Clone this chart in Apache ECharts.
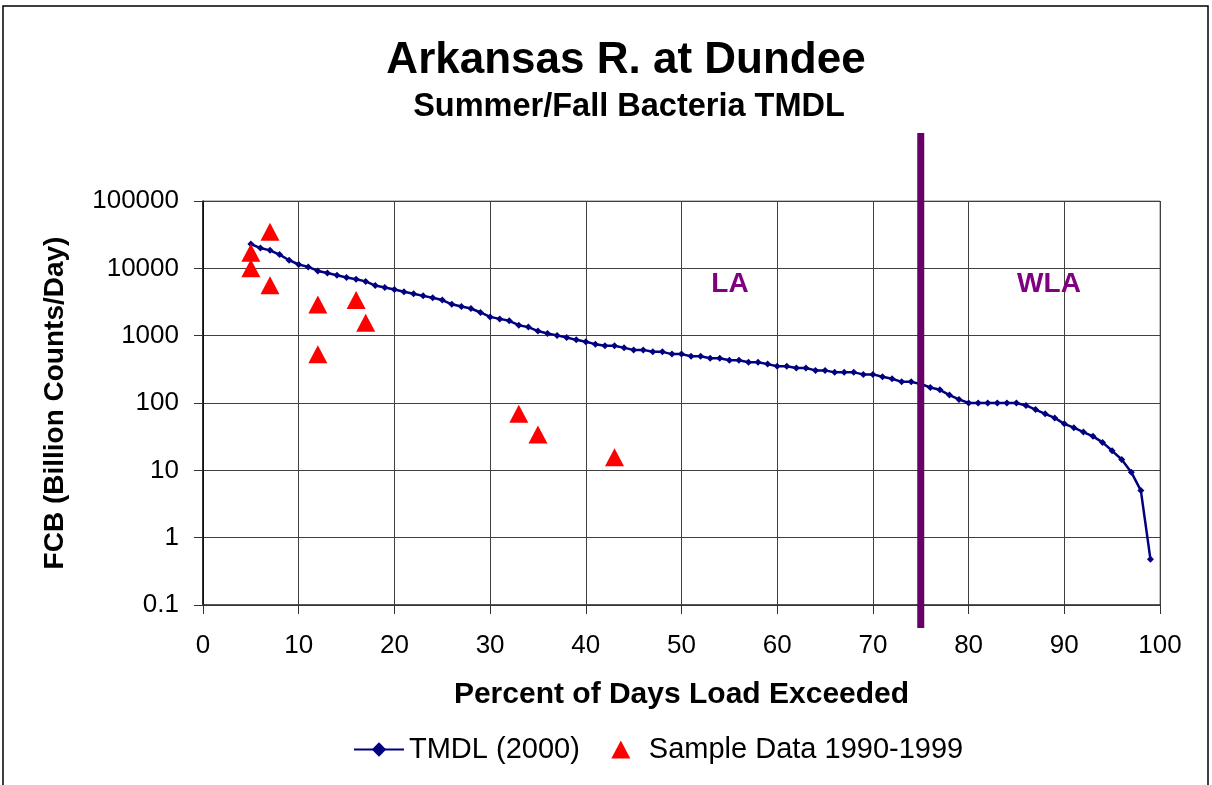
<!DOCTYPE html>
<html><head><meta charset="utf-8">
<script src="https://cdn.jsdelivr.net/npm/echarts@6/dist/echarts.min.js"></script>
<style>html,body{margin:0;padding:0;background:#fff}#c{width:1212px;height:785px}</style>
</head><body><div id="c"></div>
<script>
// TMDL curve: percent of days load exceeded vs FCB (billion counts/day)
const tmdlPercent = [5,6,7,8,9,10,11,12,13,14,15,16,17,18,19,20,21,22,23,24,25,26,27,28,29,30,31,32,33,34,35,36,37,38,39,40,41,42,43,44,45,46,47,48,49,50,51,52,53,54,55,56,57,58,59,60,61,62,63,64,65,66,67,68,69,70,71,72,73,74,75,76,77,78,79,80,81,82,83,84,85,86,87,88,89,90,91,92,93,94,95,96,97,98,99];
const tmdlLoad = [23000,20000,18500,16000,13200,11400,10500,9150,8500,7900,7300,6900,6400,5550,5200,4850,4500,4200,3900,3650,3380,2920,2710,2530,2210,1900,1775,1660,1430,1340,1170,1080,1010,940,867,810,748,706,706,659,615,615,575,575,532,532,495,495,463,463,432,432,404,404,378,352,352,330,330,305,305,285,285,285,266,266,245,229,206,206,192,170,157,131,113,100,100,100,100,100,100,92,80,69,60,49,43,37,32,26,19.5,14.5,9.4,5.0,0.48];
// Sample data 1990-1999
const samplePercent = [5,5,7,7,12,12,16,17,33,35,43];
const sampleLoad = [17000,10000,35000,5600,2900,530,3400,1550,69,34,15.7];
// LA / WLA divider
const dividerPercent = 75;
const xTicks = [0,10,20,30,40,50,60,70,80,90,100];
const yTickLabels = ['0.1','1','10','100','1000','10000','100000'];

const FONT = '"Liberation Sans", Arial, sans-serif';
const chart = echarts.init(document.getElementById('c'), null, {renderer:'canvas'});

const tmdlData = tmdlPercent.map((p,i)=>[p, tmdlLoad[i]]);
const sampleData = samplePercent.map((p,i)=>[p, sampleLoad[i]]);

chart.setOption({
  animation:false,
  backgroundColor:'#fff',
  textStyle:{fontFamily:FONT},
  grid:{left:203, right:52, top:201, bottom:180, show:true, borderColor:'#808080', borderWidth:1, backgroundColor:'transparent'},
  xAxis:{
    type:'value', min:xTicks[0], max:xTicks[xTicks.length-1], interval:10,
    name:'Percent of Days Load Exceeded', nameLocation:'middle', nameGap:75,
    nameTextStyle:{fontFamily:FONT, fontWeight:'bold', fontSize:30, color:'#000'},
    axisLine:{show:true, onZero:false, lineStyle:{color:'#333', width:1.5}},
    axisTick:{show:true, inside:false, length:9, lineStyle:{color:'#333'}},
    axisLabel:{margin:28, fontFamily:FONT, fontSize:26, color:'#000'},
    splitLine:{show:true, lineStyle:{color:'#404040', width:1}}
  },
  yAxis:{
    type:'log', logBase:10, min:0.1, max:100000, interval:1,
    name:'FCB (Billion Counts/Day)', nameLocation:'middle', nameGap:134, nameRotate:90,
    nameTextStyle:{fontFamily:FONT, fontWeight:'bold', fontSize:28, color:'#000'},
    axisLine:{show:true, lineStyle:{color:'#000', width:1.5}},
    axisTick:{show:true, inside:false, length:9, lineStyle:{color:'#333'}},
    axisLabel:{margin:24, fontFamily:FONT, fontSize:26, color:'#000',
      formatter:(v)=>{const e=Math.round(Math.log10(v)); return yTickLabels[e+1] !== undefined ? yTickLabels[e+1] : String(v);}},
    splitLine:{show:true, lineStyle:{color:'#404040', width:1}},
    minorTick:{show:false}
  },
  legend:{
    data:[
      {name:'TMDL (2000)'},
      {name:'Sample Data 1990-1999', icon:'path://M0,0 M50,0 M17.5,18 L27,0 L36.5,18 Z'}
    ],
    left:348, top:730, itemWidth:50, itemHeight:18, itemGap:14,
    textStyle:{fontFamily:FONT, fontSize:29, color:'#000'}
  },
  series:[
    {
      name:'TMDL (2000)', type:'line', data:tmdlData, showAllSymbol:true,
      symbol:'diamond', symbolSize:7,
      lineStyle:{color:'#000080', width:2.5},
      itemStyle:{color:'#000080'}, z:2
    },
    {
      name:'Sample Data 1990-1999', type:'scatter', data:sampleData,
      symbol:'triangle', symbolSize:[19,18],
      itemStyle:{color:'#FF0000', opacity:1}, z:4
    },
    {
      name:'divider', type:'custom', data:[[dividerPercent, 1]], z:5, silent:true, clip:false,
      renderItem:(params, api)=>{
        const x = api.coord([api.value(0), api.value(1)])[0];
        return {type:'line', shape:{x1:x, y1:133, x2:x, y2:628}, style:{stroke:'#660066', lineWidth:7}};
      }
    }
  ],
  graphic:[
    {type:'rect', shape:{x:3, y:6, width:1205, height:820}, style:{fill:'none', stroke:'#000', lineWidth:1.5}, z:-10, silent:true},
    {type:'text', x:626, y:61, style:{text:'Arkansas R. at Dundee', align:'center', verticalAlign:'middle', fontFamily:FONT, fontWeight:'bold', fontSize:44, fill:'#000'}},
    {type:'text', x:629, y:107, style:{text:'Summer/Fall Bacteria TMDL', align:'center', verticalAlign:'middle', fontFamily:FONT, fontWeight:'bold', fontSize:32.5, fill:'#000'}},
    {type:'text', x:730, y:284, z:10, style:{text:'LA', align:'center', verticalAlign:'middle', fontFamily:FONT, fontWeight:'bold', fontSize:28, fill:'#800080'}},
    {type:'text', x:1049, y:284, z:10, style:{text:'WLA', align:'center', verticalAlign:'middle', fontFamily:FONT, fontWeight:'bold', fontSize:28, fill:'#800080'}}
  ]
});
</script></body></html>
